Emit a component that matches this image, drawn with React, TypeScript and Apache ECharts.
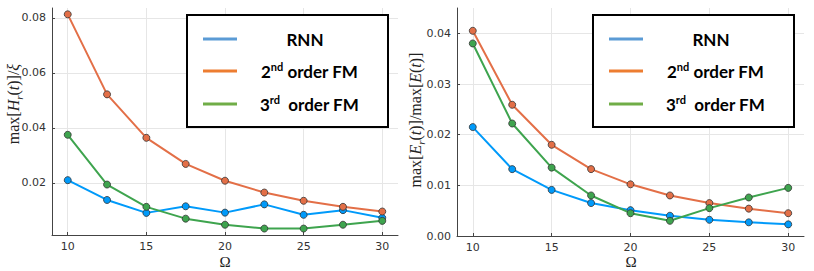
import React, { useEffect, useRef } from "react";
import * as echarts from "echarts";

const omega = [10, 12.5, 15, 17.5, 20, 22.5, 25, 27.5, 30];

const hRnn = [0.021, 0.0138, 0.0091, 0.0115, 0.0092, 0.0122, 0.0084, 0.0101, 0.0073];
const hFm2 = [0.0813, 0.0522, 0.0364, 0.0269, 0.0208, 0.0165, 0.0135, 0.0113, 0.0096];
const hFm3 = [0.0375, 0.0194, 0.0113, 0.007, 0.0048, 0.0034, 0.0034, 0.0048, 0.0062];

const eRnn = [0.0215, 0.0132, 0.0091, 0.0065, 0.0051, 0.004, 0.0032, 0.0027, 0.0023];
const eFm2 = [0.0405, 0.0259, 0.018, 0.0132, 0.0102, 0.008, 0.0065, 0.0054, 0.0045];
const eFm3 = [0.038, 0.0222, 0.0135, 0.008, 0.0045, 0.003, 0.0055, 0.0076, 0.0095];

const xTicks = [10, 15, 20, 25, 30];
const hTicks = [0.02, 0.04, 0.06, 0.08];
const eTicks = [0.0, 0.01, 0.02, 0.03, 0.04];

const seriesColors = ["#009AFA", "#E36F47", "#3EA44E"];
const legendColors = ["#5B9BD5", "#ED7D31", "#70AD47"];

export default function App() {
  const ref = useRef<HTMLDivElement>(null);
  useEffect(() => {
    if (!ref.current) return;
    const chart = echarts.init(ref.current, undefined, { renderer: "svg" });
    const tickFont = { fontFamily: "DejaVu Sans", fontSize: 11, color: "#333" };
    const mkX = (gi: number) => ({
      type: "value",
      gridIndex: gi,
      min: 9,
      max: 31,
      axisLine: { show: true, lineStyle: { color: "#444", width: 1 } },
      axisTick: { show: true, inside: true, length: 3, customValues: xTicks, lineStyle: { color: "#444" } },
      axisLabel: { ...tickFont, customValues: xTicks, margin: 6 },
      splitLine: { show: true, lineStyle: { color: "#e6e6e6", width: 1 } },
    });
    const mkY = (gi: number, min: number, max: number, ticks: number[], fmt: (v: number) => string) => ({
      type: "value",
      gridIndex: gi,
      min,
      max,
      axisLine: { show: true, lineStyle: { color: "#444", width: 1 } },
      axisTick: { show: true, inside: true, length: 3, customValues: ticks, lineStyle: { color: "#444" } },
      axisLabel: { ...tickFont, customValues: ticks, margin: 6, formatter: fmt },
      splitLine: { show: true, lineStyle: { color: "#e6e6e6", width: 1 } },
    });
    const mkSeries = (gi: number, data: number[], ci: number) => ({
      type: "line",
      xAxisIndex: gi,
      yAxisIndex: gi,
      data: omega.map((x, i) => [x, data[i]]),
      lineStyle: { color: seriesColors[ci], width: 2 },
      itemStyle: { color: seriesColors[ci], borderColor: "#333", borderWidth: 0.8 },
      symbol: "circle",
      symbolSize: 7,
      z: 3 + ci,
    });
    const legendNames = [
      { text: "{n|RNN}", x: 305, align: "center" },
      { text: "{n|2}{sp|nd}{n| order FM}", x: 261, align: "left" },
      { text: "{n|3}{sp|rd}{n|  order FM}", x: 260, align: "left" },
    ];
    const legendYs = [39, 71, 104];
    const rich = {
      n: { fontFamily: "Lato", fontWeight: "bold", fontSize: 17, fill: "#000", lineHeight: 20 },
      sp: { fontFamily: "Lato", fontWeight: "bold", fontSize: 11, fill: "#000", lineHeight: 11, verticalAlign: "top" },
    };
    const legend = (dx: number) => [
      {
        type: "rect",
        shape: { x: 187 + dx, y: 15, width: 201, height: 112 },
        style: { fill: "#fff", stroke: "#000", lineWidth: 2 },
        z: 50,
      },
      ...legendYs.map((y, i) => ({
        type: "line",
        shape: { x1: 203 + dx, y1: y, x2: 237 + dx, y2: y },
        style: { stroke: legendColors[i], lineWidth: 3 },
        z: 51,
      })),
      ...legendNames.map((l, i) => ({
        type: "text",
        x: l.x + dx,
        y: legendYs[i],
        style: {
          text: l.text,
          rich,
          fontFamily: "Lato",
          fontWeight: "bold",
          fontSize: 17,
          fill: "#000",
          align: l.align,
          verticalAlign: "middle",
        },
        z: 51,
      })),
    ];
    const serifRich = {
      r: { fontFamily: "Liberation Serif", fontSize: 16, fill: "#222", lineHeight: 22 },
      i: { fontFamily: "Liberation Serif", fontStyle: "italic", fontSize: 16, fill: "#222", lineHeight: 22 },
      sb: { fontFamily: "Liberation Serif", fontStyle: "italic", fontSize: 11, fill: "#222", lineHeight: 11, verticalAlign: "bottom" },
    };
    chart.setOption({
      animation: false,
      grid: [
        { left: 52, top: 8, width: 346, height: 227, containLabel: false },
        { left: 457, top: 8, width: 347, height: 228, containLabel: false },
      ],
      xAxis: [mkX(0), mkX(1)],
      yAxis: [
        mkY(0, 0.00106, 0.0836, hTicks, (v) => v.toFixed(2)),
        mkY(1, 0, 0.045, eTicks, (v) => v.toFixed(2)),
      ],
      series: [
        mkSeries(0, hRnn, 0),
        mkSeries(0, hFm2, 1),
        mkSeries(0, hFm3, 2),
        mkSeries(1, eRnn, 0),
        mkSeries(1, eFm2, 1),
        mkSeries(1, eFm3, 2),
      ],
      graphic: [
        ...legend(0),
        ...legend(406),
        {
          type: "text",
          x: 13,
          y: 104,
          rotation: Math.PI / 2,
          style: {
            text: "{r|max[}{i|H}{sb|r}{r|(}{i|t}{r|)]/}{i|ξ}",
            rich: serifRich,
            align: "center",
            verticalAlign: "middle",
          },
        },
        {
          type: "text",
          x: 415,
          y: 120,
          rotation: Math.PI / 2,
          style: {
            text: "{r|max[}{i|E}{sb|r}{r|(}{i|t}{r|)]/max[}{i|E}{r|(}{i|t}{r|)]}",
            rich: serifRich,
            align: "center",
            verticalAlign: "middle",
          },
        },
        {
          type: "text",
          x: 225,
          y: 262,
          style: { text: "Ω", fontFamily: "Liberation Serif", fontSize: 15, fill: "#222", align: "center", verticalAlign: "middle" },
        },
        {
          type: "text",
          x: 631,
          y: 262,
          style: { text: "Ω", fontFamily: "Liberation Serif", fontSize: 15, fill: "#222", align: "center", verticalAlign: "middle" },
        },
      ],
    });
    return () => chart.dispose();
  }, []);
  return <div ref={ref} style={{ width: 814, height: 271, position: "absolute", left: 0, top: 0 }} />;
}
